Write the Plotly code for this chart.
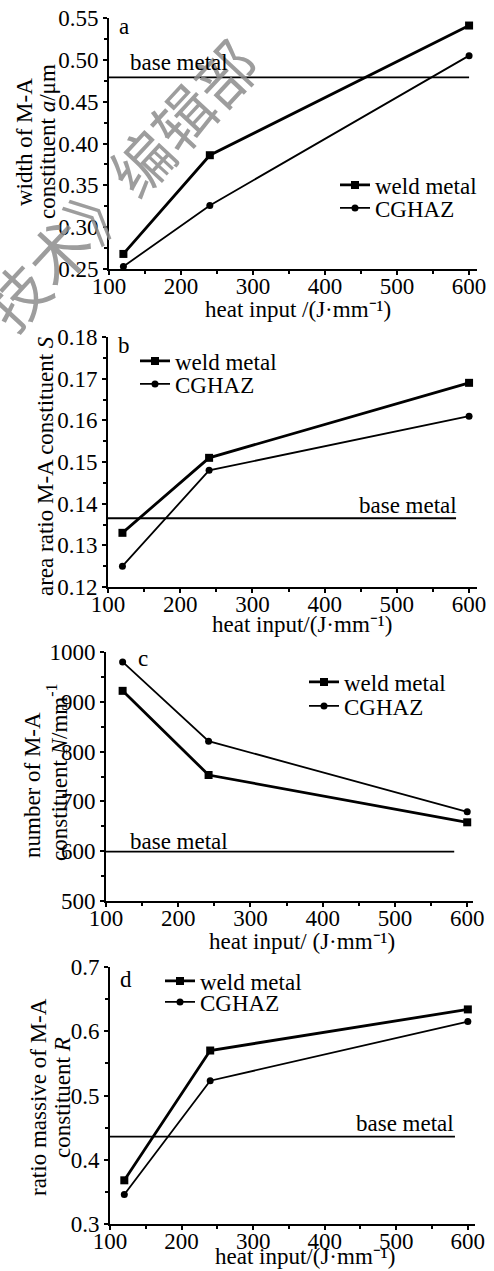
import plotly.graph_objects as go

W, H = 494, 1271
FONT = "Liberation Serif"

# ---------------- data ----------------
heat_a = [120, 240, 600]
weld_a = [0.268, 0.386, 0.541]
cghaz_a = [0.253, 0.326, 0.505]
base_a = 0.479
base_span_a = [100, 600]

heat_b = [120, 240, 600]
weld_b = [0.133, 0.151, 0.169]
cghaz_b = [0.125, 0.148, 0.161]
base_b = 0.1365
base_span_b = [100, 582]

heat_c = [123, 242, 600]
weld_c = [922, 753, 658]
cghaz_c = [980, 821, 679]
base_c = 599
base_span_c = [100, 582]

heat_d = [120, 240, 600]
weld_d = [0.368, 0.570, 0.634]
cghaz_d = [0.346, 0.523, 0.615]
base_d = 0.436
base_span_d = [100, 582]

x_ticks = [100, 200, 300, 400, 500, 600]

# ---------------- layout helpers ----------------
def px(x):
    return x / W

def py(y):
    return 1 - y / H

panels = [
    dict(heat=heat_a, weld=weld_a, cghaz=cghaz_a, base=base_a, span=base_span_a,
         xdom=(109, 477), ydom=(18, 269), xr=[100, 611], yr=[0.25, 0.55], dtick=0.05, fmt=".2f",
         leg_w=(335, 185), leg_c=(335, 208)),
    dict(heat=heat_b, weld=weld_b, cghaz=cghaz_b, base=base_b, span=base_span_b,
         xdom=(108, 477), ydom=(337, 587), xr=[100, 611], yr=[0.12, 0.18], dtick=0.01, fmt=".2f",
         leg_w=(135, 361), leg_c=(135, 384)),
    dict(heat=heat_c, weld=weld_c, cghaz=cghaz_c, base=base_c, span=base_span_c,
         xdom=(106, 473), ydom=(652, 901), xr=[100, 608], yr=[500, 1000], dtick=100, fmt="d",
         leg_w=(304, 682), leg_c=(304, 706)),
    dict(heat=heat_d, weld=weld_d, cghaz=cghaz_d, base=base_d, span=base_span_d,
         xdom=(110, 475), ydom=(967, 1224), xr=[100, 610], yr=[0.3, 0.7], dtick=0.1, fmt=".1f",
         leg_w=(160, 981), leg_c=(160, 1002)),
]

fig = go.Figure()
layout = dict(
    width=W, height=H,
    margin=dict(l=0, r=0, t=0, b=0, autoexpand=False),
    paper_bgcolor="white", plot_bgcolor="white",
    font=dict(family=FONT, size=23, color="black"),
    annotations=[],
)

tfont = dict(family=FONT, size=23, color="black")

for i, p in enumerate(panels):
    n = i + 1
    xa = "x" if n == 1 else f"x{n}"
    ya = "y" if n == 1 else f"y{n}"
    lw = "legend" if n == 1 else f"legend{2*n-1}"
    lc = f"legend{2*n}"
    # base metal line
    fig.add_trace(go.Scatter(x=p["span"], y=[p["base"], p["base"]], mode="lines",
                             line=dict(color="black", width=1.8), showlegend=False,
                             xaxis=xa, yaxis=ya, hoverinfo="skip"))
    fig.add_trace(go.Scatter(x=p["heat"], y=p["weld"], mode="lines+markers", name="weld metal",
                             line=dict(color="black", width=2.8),
                             marker=dict(symbol="square", size=8, color="black"),
                             xaxis=xa, yaxis=ya, legend=lw, cliponaxis=False))
    fig.add_trace(go.Scatter(x=p["heat"], y=p["cghaz"], mode="lines+markers", name="CGHAZ",
                             line=dict(color="black", width=1.8),
                             marker=dict(symbol="circle", size=7, color="black"),
                             xaxis=xa, yaxis=ya, legend=lc, cliponaxis=False))
    xkey = "xaxis" if n == 1 else f"xaxis{n}"
    ykey = "yaxis" if n == 1 else f"yaxis{n}"
    layout[xkey] = dict(
        domain=[px(p["xdom"][0]), px(p["xdom"][1])], range=p["xr"], anchor=ya,
        automargin=False, ticklabelstandoff=-9,
        tickmode="array", tickvals=x_ticks, ticks="outside", ticklen=4, tickwidth=1.5,
        tickcolor="black", showline=True, linecolor="black", linewidth=2,
        showgrid=False, zeroline=False, tickfont=tfont,
        minor=dict(tickvals=[150, 250, 350, 450, 550], ticks="outside", ticklen=3,
                   tickcolor="black", tickwidth=1.5, showgrid=False),
    )
    layout[ykey] = dict(
        domain=[py(p["ydom"][1]), py(p["ydom"][0])], range=p["yr"], anchor=xa,
        automargin=False,
        dtick=p["dtick"], tick0=p["yr"][0], ticks="outside", ticklen=4, tickwidth=1.5,
        tickcolor="black", showline=True, linecolor="black", linewidth=2,
        showgrid=False, zeroline=False, tickfont=tfont, tickformat=p["fmt"],
        minor=dict(dtick=p["dtick"] / 2, ticks="outside", ticklen=3, tickcolor="black",
                   tickwidth=1.5, showgrid=False),
    )
    for key, (lx, ly) in ((lw, p["leg_w"]), (lc, p["leg_c"])):
        layout[key] = dict(x=px(lx), y=py(ly), xanchor="left", yanchor="middle",
                           xref="paper", yref="paper", bgcolor="rgba(0,0,0,0)",
                           borderwidth=0, font=dict(family=FONT, size=23, color="black"),
                           itemclick=False)

ann = layout["annotations"]

# watermark
ann.append(dict(text="技术》编辑部", x=px(119), y=py(183), xref="paper", yref="paper",
                showarrow=False, textangle=-47, xanchor="center", yanchor="middle",
                font=dict(family="Noto Sans CJK SC", size=61, color="rgba(140,140,140,0.85)")))

def text(t, x, y, angle=0, size=23, xanchor="center", yanchor="middle"):
    ann.append(dict(text=t, x=px(x), y=py(y), xref="paper", yref="paper", showarrow=False,
                    textangle=angle, xanchor=xanchor, yanchor=yanchor,
                    font=dict(family=FONT, size=size, color="black")))

# panel letters
text("a", 124, 26)
text("b", 124, 345)
text("c", 143, 658)
text("d", 126, 980)

# base metal labels
text("base metal", 179, 62)
text("base metal", 408, 505)
text("base metal", 179, 841)
text("base metal", 405, 1123)

# x titles
text("heat input /(J·mm⁻¹)", 298, 309)
text("heat input/(J·mm⁻¹)", 302, 624)
text("heat input/ (J·mm⁻¹)", 302, 941)
text("heat input/(J·mm⁻¹)", 305, 1271, yanchor="bottom")

# y titles
text("width of M-A", 25, 142, angle=-90)
text("constituent <i>a</i>/μm", 48, 142, angle=-90)
text("area ratio M-A constituent <i>S</i>", 45, 466, angle=-90)
text("number of M-A", 32, 785, angle=-90)
text("constituent <i>N</i>/mm<sup>-1</sup>", 57, 772, angle=-90)
text("ratio massive of M-A", 38, 1097, angle=-90)
text("constituent <i>R</i>", 62, 1097, angle=-90)

fig.update_layout(**layout)
fig.write_html(
    "out.html",
    config={"displayModeBar": False},
    post_script="document.body.style.margin='0';document.body.style.padding='0';"
                "document.body.style.overflow='hidden';",
)
